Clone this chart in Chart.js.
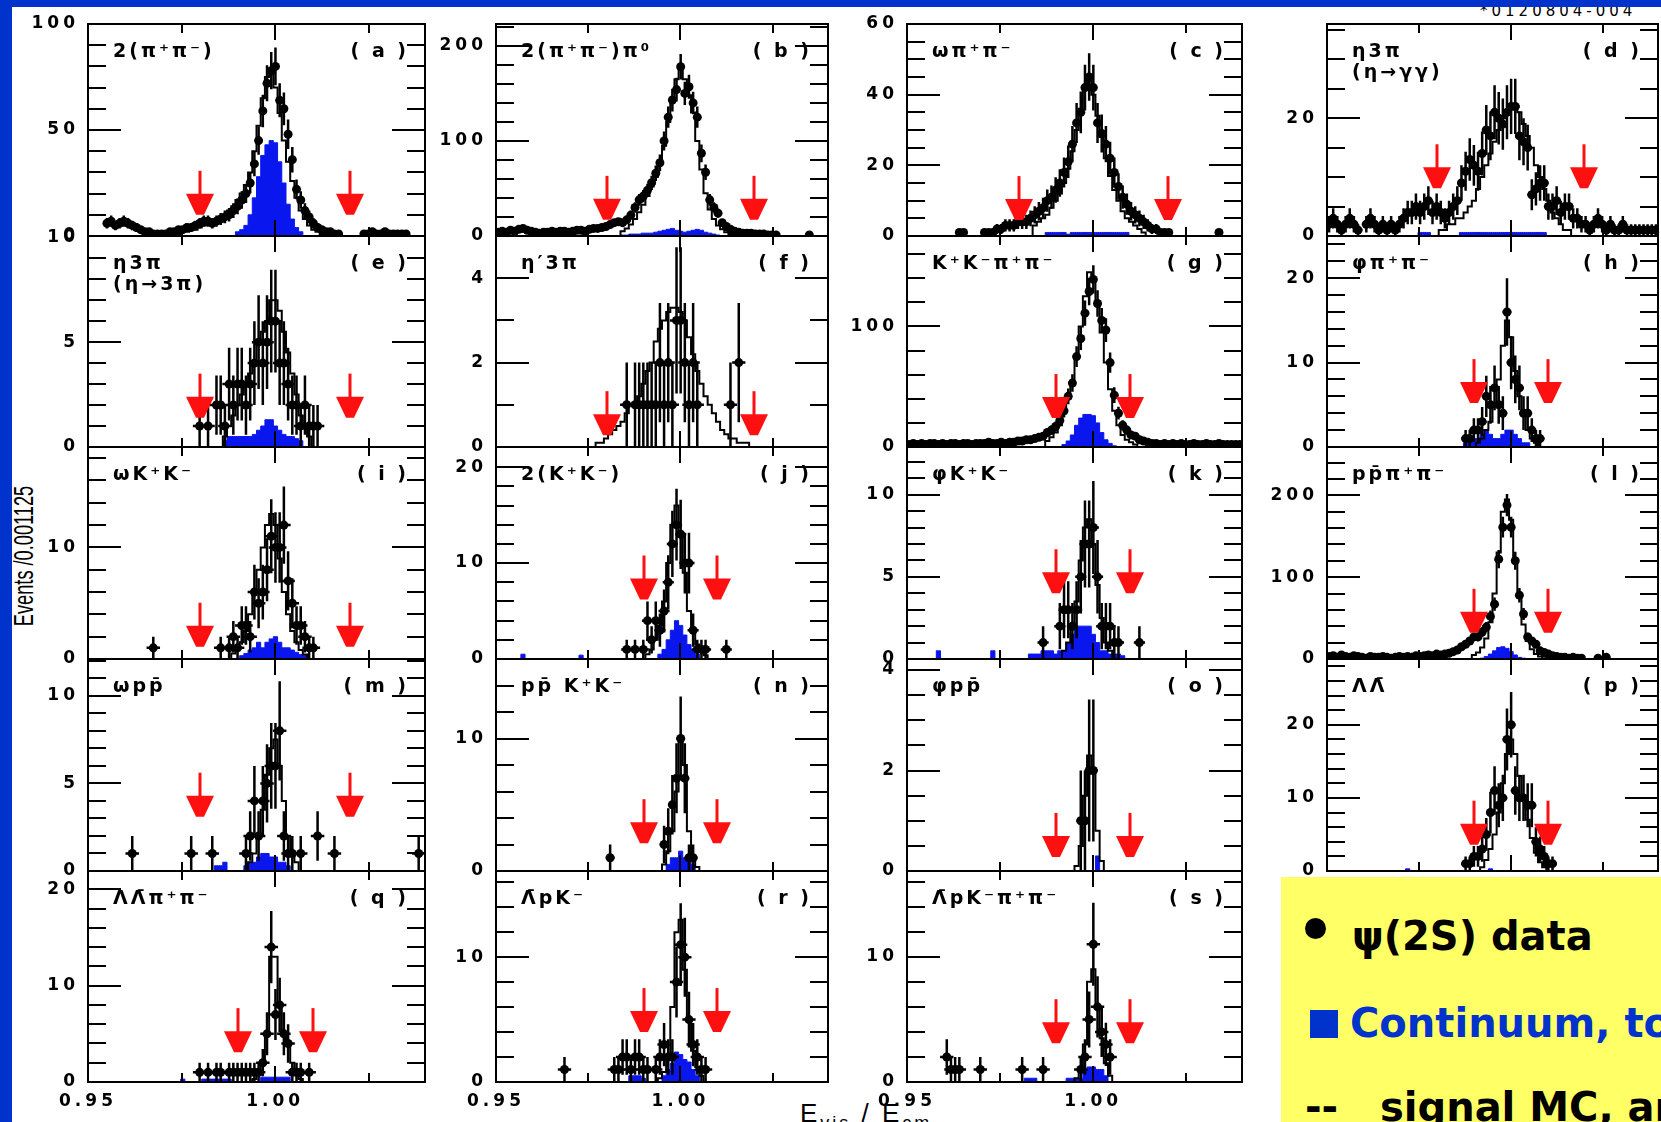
<!DOCTYPE html>
<html lang="en">
<head>
<meta charset="UTF-8">
<title>E_vis / E_cm for exclusive psi(2S) decays</title>
<script src="https://cdn.jsdelivr.net/npm/chart.js"></script>
<style>
html, body { margin: 0; padding: 0; }
body {
    width: 1661px; height: 1122px; overflow: hidden; position: relative;
    background: #0033cc; font-family: "DejaVu Sans", sans-serif;
}
#sheet { position: absolute; left: 12px; top: 7px; width: 1649px; height: 1115px; background: #fff; overflow: hidden; }
#figId { position: absolute; left: 1468px; top: -5px; font-size: 15px; letter-spacing: 4px; white-space: nowrap; }
#yTitle {
    position: absolute; left: 24px; top: 556px; white-space: nowrap; line-height: 1;
    font: 28px "Liberation Sans", sans-serif;
    transform: translate(-50%, -50%) rotate(-90deg) scaleX(0.65);
}
#xTitle { position: absolute; left: 800px; top: 1100px; font: 26px "Liberation Sans", sans-serif; letter-spacing: 3px; white-space: nowrap; line-height: 1; }
#xTitle sub { font-size: 18px; vertical-align: -7px; }
#plots canvas { position: absolute; }
#note {
    position: absolute; left: 1281px; top: 877px; width: 380px; height: 245px;
    background: #ffff66; overflow: hidden; white-space: nowrap;
    font: bold 40px "DejaVu Sans", sans-serif; line-height: 40px;
}
#note div { position: absolute; }
.dot { width: 21px; height: 21px; border-radius: 50%; background: #000; left: 24px; top: 41px; }
.sq { width: 28px; height: 28px; background: #0033cc; left: 29px; top: 133px; }
</style>
</head>
<body>
<div id="sheet">
    <div id="figId">*0120804-004</div>
</div>
<div id="yTitle">Events /0.001125</div>
<div id="xTitle">E<sub>vis</sub> / E<sub>cm</sub></div>
<div id="plots"></div>
<div id="note">
    <div class="dot"></div>
    <div style="left:71px; top:39px; color:#000;">ψ(2S) data</div>
    <div class="sq"></div>
    <div style="left:69px; top:126px; color:#0033cc;">Continuum, to scale</div>
    <div style="left:24px; top:210px; color:#000;">--</div>
    <div style="left:99px; top:210px; color:#000;">signal MC, arbitrary scale</div>
</div>

<script>
// binning: 80 bins of 0.001125 from 0.95
const BIN = 0.001125;
const X_MIN = 0.95, X_MAX = 1.04;
const xTickValues = [0.95, 0.975, 1.0, 1.025];
const xTickLabels = ['0.95', '', '1.00', ''];

// counts per bin (data), signal MC histogram, continuum histogram
// firstX = first bin index of [data, mc, continuum]
const dataA = [6,7,5,6,7,6,5,4,3, 2,2,1,1,1, 1,2,2,3,3, 4,4,5,6,7,7,6,7, 8,9,10,12,14, 17,20,25,34,45, 59,72,78,80,64,60,48,36,22,17,12,9,6,4,3,2,2,1, 1,0,0,0,0,0, 1,1,2,1,1,2,1,1,1,1,1];
const mcA = [1,1,2,2,3,3,4,5,6,7,8,9,10,12,14,17,20,24,30,40,52,65,75,78,70,58,45,35,26,18,12,8,5,3,2,1];
const contA = [2,3,5,10,18,28,38,43,45,44,35,25,15,8,4,2];
const firstA = [4, 20, 35];

const dataB = [4,5,4,6,5,7,8,6,5,4, 3,4,4,5,4,5,5,4,5,6, 6,5,7,8,8,9,10,12,14,15, 14,17,22,30,38,42,48,56,66,77, 100,125,143,154,178,150,157,140,125,87, 67,38,30,24,14,10,7,5,4,3, 3,3,2,2,2,1,1,1,0,0, 0,0,0,0,0,1,0,0,0,0];
const mcB = [5,8,12,18,25,33,42,52,62,75,95,120,145,165,175,165,148,130,100,70,45,28,18,11,7,4,2,1];
const contB = [1,1,2,2,2,3,3,3,4,5,6,7,8,6,5,4,5,6,7,6,4,3,2,1];
const firstB = [0, 30, 30];

const dataC = [1,1,0,0,0,0,1,1,1,2, 2,3,3,3,4,4,4,5,6,7, 8,10,11,13,15,18,21,26,32,35, 42,45,42,32,29,26,22,18,14,11, 9,7,6,5,4,3,2,2,1,1, 1,0,0,0,0,0,0,0,0,0,0,0,1];
const mcC = [3,4,5,6,8,10,12,15,19,24,30,36,42,44,40,34,28,22,17,13,10,7,5,4,3,2,1];
const contC = [1,1,1,1,1,0.5,1,1,1,1,1,1,1,1,1,1,1,1,1,1];
const firstC = [12, 30, 33];

const dataD = [2,3,2,1,2,3,2,1,0,2,3,2,1,2,1,2,1,2,3, 4,4,5,4,5,6,4,5,4,3,4,5,6, 9,11,13,12,11,14,18,17,21,20,19,21,22,22,17,16,15, 7,8,9,9,5,5,6,4,5,5,3,3,2,2,1,2,3,2,1,2,1,1,2,1,1,1,1,1,1,1,1];
const mcD = [1,1,2,2,3,3,4,5,6,8,10,12,14,16,18,20,21,22,22,21,19,17,15,12,10,8,6,4,3,2,1,1];
const contD = [0.6,0.6,0.6,0,0,0,0,0,0,0,0.6,0.6,0.6,0.6,0.6,0.6,0.6,0.6,0.6,0.6,0.6,0.6,0.6,0.6,0.6,0.6,0.6,0.6,0.6,0.6,0.6];
const firstD = [0, 27, 22];

const dataE = [1,0,1,0,2,2,1,3,2,3,3,2,3,4,5,4,5,6,6,4,4,3,2,2,1,2,1,1,1];
const mcE = [0.5,1,1.5,2,2.5,3,3.5,4,5,5.5,6,7,7,6.5,5.5,4.5,3.5,2.5,1.5,1,0.5];
const contE = [0.3,0.5,0.5,0.5,0.5,0.5,0.5,0.6,0.8,1.0,1.3,1.3,1.0,0.8,0.6,0.5,0.5,0.4,0.3];
const firstE = [26, 32, 32];

const dataF = [1,0,1,1,1,1,1,1,2,1,2,1,3,3,2,1,2,1,0,0,0,0,0,0,0,1,0,2];
const mcF = [0.1,0.1,0.2,0.3,0.4,0.5,0.6,0.8,1,1,1.2,1.5,1.8,2,2.5,2.8,3,3.2,3.3,3.3,3.2,3,2.6,2.2,1.8,1.5,1.2,1,0.8,0.6,0.4,0.3,0.2,0.2,0.1,0.1,0.1];
const contF = [];
const firstF = [31, 24, 0];

const dataG = [2,3,2,3,2,3,3,2,3,2,3,3,2,3,3,2,3,3,3,4,3,3,4,3,4,4,5,5,6,6,7,8, 9,12,14,17,22,30,42,53,75,90,111,129,139,119,105,97,70,43,28,18,14,10,9,6,5,4,3, 3,2,3,2,3,2,3,2,2,3,2,2,3,2,2,3,2,2,2,2,2];
const mcG = [5,8,12,18,28,40,55,75,100,125,145,140,118,95,70,48,30,18,10,6,4,2];
const contG = [2,5,10,18,24,27,27,26,20,12,6,3,1];
const firstG = [0, 33, 37];

const dataH = [1,1,2,2,3,6,5,7,5,4,16,10,8,7,4,4,2,1,1];
const mcH = [0.5,1,2,3,5,8,12,15,13,9,6,4,2,1,0.5];
const contH = [0.5,1,1,1,1.5,2,1.5,1,1,1.5,2,2,1.5,1,0.5,0.5];
const firstH = [33, 36, 33];

const dataI = [1,0,0,0,0,0,0,0,0,0,0,0,0,0,0,0, 1,0,1,2,1,3,3,2,6,5,6,8,11,10,10,12,7,5,3,3,2,1,1];
const mcI = [0.5,1,1.5,2.5,4,6,8,10,12,13,12,9,6,4,2.5,1.5,0.8,0.4];
const contI = [0.3,0.5,0.8,1,1.5,1,1.5,1.8,2,1.5,1,1,0.8,0.6,0.4,0.3];
const firstI = [15, 34, 36];

const dataJ = [1,0,1,0,1,4,2,4,3,5,8,12,14,13,10,10,3,1,1,1,0,0,0,0,1];
const mcJ = [0.5,1,2,3.5,6,10,14,16,13,9,5,3,1.5,0.8,0.4];
const contJ = [0.5, 0,0,0,0,0,0,0,0,0,0,0,0,0, 0.4, 0,0,0,0,0,0,0,0,0,0,0,0,0,0,0,0,0,0, 0.5,1,2,3,4,3.5,2.5,1.5,1,0.5];
const firstJ = [31, 36, 6];

const dataK = [1,0,0,0,2,3,3,2,3,5,7,7,8,5,2,2,2,1,1,0,0,0,0,1];
const mcK = [0.5,1,2,3.5,6,8,8.5,7,4.5,2.5,1,0.5];
const contK = [0.5, 0,0,0,0,0,0,0,0,0,0,0,0, 0.5, 0,0,0,0,0,0,0,0, 0.3,0.3,0.3,0.5,0.5,0.5,0.3,0.5,0.5,1,1.5,2,2,2,2,1.5,1,0.5,0.5,0.3,0.3,0.3,0.2];
const firstK = [32, 37, 7];

const dataL = [3,4,2,5,3,2,4,3,2,1,3,2,2,3,2,1,2,3,2,3,2,4,3,4,5,4,6,5,6,7,9,11,15, 18,22,27,27,33,39,52,67,122,161,188,161,120,78,55,27,22,18,10,8,6,4,3,2,2,1,2,1,1,0,0,0,1, 0,2,0,0,0,0,0,0,0,0,0,0,0,0];
const mcL = [5,8,14,25,45,80,130,180,195,170,120,75,42,22,12,6,3,1];
const contL = [1,3,6,10,14,15,13,9,5,2,1];
const firstL = [0, 35, 37];

const dataM = [1, 0,0,0,0,0,0,0,0,0,0,0,0,0, 1, 0,0,0,0, 1, 0,0,0,0,0,0,0, 1,2,4,2,4,5,6,6,8,2,1,1, 0,1, 0,0,0, 2, 0,0,0, 1, 0,0,0,0,0,0,0,0,0,0,0,0,0,0,0,0,0,0,0, 1];
const mcM = [0.5,1,2,3.5,5.5,7,7.5,6,4,2,1,0.5];
const contM = [0.3,0.3,0.5,0,0,0,0,0.3,0.5,0.5,0.8,1,1,0.8,0.8,0.5,0.5,0.3];
const firstM = [10, 38, 30];

const dataN = [1, 0,0,0,0,0,0,0,0,0,0,0,0, 2,3,5,7,10,7,1,1];
const mcN = [0.5,1.5,3,6,10,8,3,1,0.3];
const contN = [0.5,1,1,1.5,1,1,0.5];
const firstN = [27, 40, 41];

const dataO = [1,1,2,2];
const mcO = [0.1,0.5,1.5,2.3,2,0.8,0.2];
const contO = [0.3];
const firstO = [41, 40, 45];

const dataP = [1,1,2,2,3,5,8,11,9,10,18,20,11,10,10,9,9,4,3,2,1,1];
const mcP = [0.5,1.5,3,5,8,12,16,18,16,13,10,7,4.5,2.5,1.2,0.5];
const contP = [0.3, 0,0,0,0,0,0,0,0,0,0,0,0,0,0,0,0,0,0,0, 0.3];
const firstP = [33, 37, 19];

const dataQ = [1,0,1,0,1,1,0,1,1,1,1,1,1,1,1,2,5,14,7,8,5,4,1,1,1,0,1];
const mcQ = [0.3,0.8,2,5,13,13,8,5,4,2,0.8,0.3];
const contQ = [0.3,0,0,0,0,0.3,0.3,0.3,0.3,0.3,0.3,0.3,0,0,0,0,0,0,0,0.5,0.5,0.5,0.5,0.5,0.5,0.5];
const firstQ = [26, 39, 22];

const dataR = [1, 0,0,0,0,0,0,0,0,0,0,0, 1,1,2,2,1,2,2,1,1,0,1,2,3,2,2,8,11,10,5,3,2,1,1];
const mcR = [0.3,0.8,2,6,12,13,9,5,2.5,1.2,0.5];
const contR = [0.5,0.5,0.5,0.3,0,0,0,0,0.5,1,1.5,2.4,2.2,1.8,1.6,1,0.5];
const firstR = [16, 39, 32];

const dataS = [2,1,1,1, 0,0,0,0, 1, 0,0,0,0,0,0,0,0,0, 1, 0,0,0,0, 1, 0,0,0,0,0,0,0,0, 1,2,5,11,6,4,3,2];
const mcS = [0.3,1,3,8,9,6,3.5,1.5,0.5];
const contS = [0.3,0.3,0.3,0,0,0,0,0,0,0,0.3,0.3,0.3,0.3,1,1.2,1.2,1,1,0.5];
const firstS = [9, 40, 28];

const panelIds = ['a','b','c','d','e','f','g','h','i','j','k','l','m','n','o','p','q','r','s'];
const titles = ['2(π⁺π⁻)', '2(π⁺π⁻)π⁰', 'ωπ⁺π⁻', 'η3π', 'η3π', 'η′3π', 'K⁺K⁻π⁺π⁻', 'φπ⁺π⁻',
                'ωK⁺K⁻', '2(K⁺K⁻)', 'φK⁺K⁻', 'pp̄π⁺π⁻', 'ωpp̄', 'pp̄ K⁺K⁻', 'φpp̄', 'ΛΛ̄',
                'ΛΛ̄π⁺π⁻', 'Λ̄pK⁻', 'Λ̄pK⁻π⁺π⁻'];
const subTitles = ['', '', '', '(η→γγ)', '(η→3π)', '', '', '', '', '', '', '', '', '', '', '', '', '', ''];
const yMax = [100, 223, 60, 36, 10.06, 5, 175, 25, 19, 22.1, 12.9, 259, 12.1, 16, 4.22, 29, 21.9, 16.9, 16.85];
const yStep = [10, 20, 5, 5, 1, 1, 20, 2, 2, 2, 1, 20, 1, 2, 0.5, 2, 2, 2, 2];
const yLabels = [[0,50,100], [0,100,200], [0,20,40,60], [0,20], [0,5,10], [0,2,4], [0,100], [0,10,20],
                 [0,10], [0,10,20], [0,5,10], [0,100,200], [0,5,10], [0,10], [0,2,4], [0,10,20],
                 [0,10,20], [0,10], [0,10]];
const arrowX = [[0.98,1.02], [0.98,1.02], [0.98,1.02], [0.98,1.02], [0.98,1.02], [0.98,1.02], [0.99,1.01], [0.99,1.01],
                [0.98,1.02], [0.99,1.01], [0.99,1.01], [0.99,1.01], [0.98,1.02], [0.99,1.01], [0.99,1.01], [0.99,1.01],
                [0.99,1.01], [0.99,1.01], [0.99,1.01]];
const arrowTip = [10, 17, 4.5, 8.1, 1.4, 0.28, 24, 5.2, 1.1, 6.2, 4, 32, 3.1, 2.1, 0.28, 3.6, 3.1, 4, 3.1];
const errHalfWidth = [0.0008, 0.0008, 0.0008, 0.0012, 0.0018, 0.0018, 0.0008, 0.0012, 0.0018, 0.0015,
                      0.0015, 0.0008, 0.0018, 0.0012, 0.0012, 0.0012, 0.0018, 0.0018, 0.0018];

const counts = [dataA, dataB, dataC, dataD, dataE, dataF, dataG, dataH, dataI, dataJ, dataK, dataL, dataM, dataN, dataO, dataP, dataQ, dataR, dataS];
const mcHists = [mcA, mcB, mcC, mcD, mcE, mcF, mcG, mcH, mcI, mcJ, mcK, mcL, mcM, mcN, mcO, mcP, mcQ, mcR, mcS];
const contHists = [contA, contB, contC, contD, contE, contF, contG, contH, contI, contJ, contK, contL, contM, contN, contO, contP, contQ, contR, contS];
const firstBins = [firstA, firstB, firstC, firstD, firstE, firstF, firstG, firstH, firstI, firstJ, firstK, firstL, firstM, firstN, firstO, firstP, firstQ, firstR, firstS];

// page layout of the 4 x 5 grid of frames
const colLeft = [88, 496, 907, 1327];
const colWidth = [337, 332, 335, 331];
const rowTop = [24, 236, 447, 659, 871];
const rowHeight = [212, 211, 212, 212, 211];
const PAD_L = 80, PAD_R = 8, PAD_T = 14, PAD_B = 30;

const BLUE = '#0a16ee';
const RED = '#ff1010';
const TICK_FONT = { family: 'DejaVu Sans', size: 17, weight: 'bold' };

function binCenter(i) { return X_MIN + (i + 0.5) * BIN; }

function histPoints(first, vals) {
    if (!vals.length) return [];
    const pts = [{ x: binCenter(first - 1), y: 0 }];
    vals.forEach((v, i) => pts.push({ x: binCenter(first + i), y: v }));
    pts.push({ x: binCenter(first + vals.length), y: 0 });
    return pts;
}

function countPoints(first, vals) {
    const pts = [];
    vals.forEach((v, i) => { if (v > 0) pts.push({ x: binCenter(first + i), y: v }); });
    return pts;
}

function isLabel(k, v) { return yLabels[k].some(l => Math.abs(l - v) < 1e-6); }

// frame, inward ticks, error bars, cut arrows and titles (HBOOK look)
function decor(k) {
    return {
        id: 'decor' + k,
        beforeDraw(chart) { chart.ctx.letterSpacing = '4px'; },
        afterDatasetsDraw(chart) {
            const { ctx, chartArea: a, scales: { x, y } } = chart;
            ctx.save();
            ctx.beginPath();
            ctx.rect(a.left, a.top, a.right - a.left, a.bottom - a.top);
            ctx.clip();
            ctx.strokeStyle = '#000';
            ctx.lineWidth = 2.5;
            const first = firstBins[k][0];
            const hw = errHalfWidth[k];
            counts[k].forEach((v, i) => {
                if (v <= 0) return;
                const xc = binCenter(first + i);
                const e = Math.sqrt(v);
                const px = x.getPixelForValue(xc), py = y.getPixelForValue(v);
                ctx.beginPath();
                ctx.moveTo(px, y.getPixelForValue(v - e));
                ctx.lineTo(px, y.getPixelForValue(v + e));
                ctx.moveTo(x.getPixelForValue(xc - hw), py);
                ctx.lineTo(x.getPixelForValue(xc + hw), py);
                ctx.stroke();
            });
            ctx.fillStyle = RED;
            arrowX[k].forEach(ax => {
                const px = Math.round(x.getPixelForValue(ax));
                const py = y.getPixelForValue(arrowTip[k]);
                ctx.fillRect(px - 1.5, py - 44, 3, 24);
                ctx.beginPath();
                ctx.moveTo(px - 14, py - 21);
                ctx.lineTo(px + 14, py - 21);
                ctx.lineTo(px + 4, py);
                ctx.lineTo(px - 4, py);
                ctx.closePath();
                ctx.fill();
            });
            ctx.restore();
        },
        afterDraw(chart) {
            const { ctx, chartArea: a, scales: { x, y } } = chart;
            ctx.save();
            ctx.letterSpacing = '0px';
            ctx.strokeStyle = '#000';
            ctx.lineWidth = 2;
            ctx.beginPath();
            y.ticks.forEach(t => {
                const py = Math.round(y.getPixelForValue(t.value));
                if (py <= a.top + 1 || py >= a.bottom - 1) return;
                const len = isLabel(k, t.value) ? 33 : 18;
                ctx.moveTo(a.left, py); ctx.lineTo(a.left + len, py);
                ctx.moveTo(a.right, py); ctx.lineTo(a.right - len, py);
            });
            x.ticks.forEach(t => {
                if (t.value <= X_MIN + 1e-9) return;
                const px = Math.round(x.getPixelForValue(t.value));
                const len = Math.abs(t.value - 1) < 1e-9 ? 16 : 9;
                ctx.moveTo(px, a.top); ctx.lineTo(px, a.top + len);
                ctx.moveTo(px, a.bottom); ctx.lineTo(px, a.bottom - len);
            });
            ctx.stroke();
            ctx.strokeRect(a.left, a.top, a.right - a.left, a.bottom - a.top);

            ctx.fillStyle = '#000';
            ctx.font = 'bold 19px "DejaVu Sans"';
            ctx.letterSpacing = '3px';
            ctx.textBaseline = 'middle';
            ctx.textAlign = 'left';
            ctx.fillText(titles[k], a.left + 25, a.top + 28);
            if (subTitles[k]) ctx.fillText(subTitles[k], a.left + 25, a.top + 49);
            ctx.textAlign = 'right';
            ctx.fillText('( ' + panelIds[k] + ' )', a.right - 16, a.top + 28);
            ctx.restore();
        }
    };
}

function makePanel(k) {
    const col = k % 4, row = Math.floor(k / 4);
    const w = colWidth[col], h = rowHeight[row];
    const W = w + PAD_L + PAD_R, H = h + PAD_T + PAD_B;
    const cv = document.createElement('canvas');
    cv.width = W; cv.height = H;
    cv.style.left = (colLeft[col] - PAD_L) + 'px';
    cv.style.top = (rowTop[row] - PAD_T) + 'px';
    cv.style.width = W + 'px';
    cv.style.height = H + 'px';
    document.getElementById('plots').appendChild(cv);

    const showX = row === 4 || k === 15;
    const [fData, fMc, fCont] = firstBins[k];

    new Chart(cv, {
        type: 'line',
        data: {
            datasets: [
                {
                    label: 'continuum', data: histPoints(fCont, contHists[k]), stepped: 'middle',
                    fill: 'origin', backgroundColor: BLUE, borderColor: BLUE, borderWidth: 1,
                    pointRadius: 0, order: 3
                },
                {
                    label: 'signal MC', data: histPoints(fMc, mcHists[k]), stepped: 'middle',
                    fill: false, borderColor: '#000', borderWidth: 2, pointRadius: 0, order: 2
                },
                {
                    label: 'data', data: countPoints(fData, counts[k]), showLine: false,
                    pointRadius: 4.5, pointBackgroundColor: '#000', pointBorderColor: '#000',
                    pointBorderWidth: 0, order: 1
                }
            ]
        },
        options: {
            responsive: false,
            animation: false,
            devicePixelRatio: 1,
            events: [],
            layout: { padding: { top: PAD_T, right: PAD_R, bottom: 0, left: 0 } },
            plugins: { legend: { display: false }, tooltip: { enabled: false } },
            scales: {
                x: {
                    type: 'linear', min: X_MIN, max: X_MAX,
                    grid: { display: false }, border: { display: false },
                    afterBuildTicks: s => { s.ticks = xTickValues.map(v => ({ value: v })); },
                    afterFit: s => { s.height = PAD_B; },
                    ticks: {
                        display: showX, autoSkip: false, maxRotation: 0, padding: 1,
                        color: '#000', font: TICK_FONT,
                        callback: (v, i) => xTickLabels[i]
                    }
                },
                y: {
                    type: 'linear', min: 0, max: yMax[k],
                    grid: { display: false }, border: { display: false },
                    afterBuildTicks: s => {
                        const t = [];
                        for (let n = 0; n * yStep[k] <= yMax[k] + 1e-9; n++) t.push({ value: +(n * yStep[k]).toFixed(4) });
                        s.ticks = t;
                    },
                    afterFit: s => { s.width = PAD_L; },
                    ticks: {
                        autoSkip: false, padding: 1, color: '#000', font: TICK_FONT,
                        callback: v => isLabel(k, v) ? String(v) : ''
                    }
                }
            }
        },
        plugins: [decor(k)]
    });
}

panelIds.forEach((id, k) => makePanel(k));
</script>
</body>
</html>
